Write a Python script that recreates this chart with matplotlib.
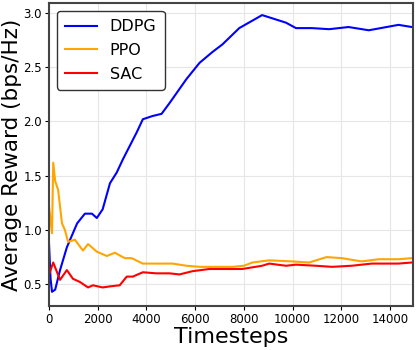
import matplotlib.pyplot as plt

ddpg_t = [0, 60, 120, 250, 450, 730, 1150, 1470, 1760, 1960, 2200, 2500, 2780, 3030,
          3600, 3850, 4250, 4620, 4950, 5640, 6180, 6710, 7120, 7810, 8750, 9730,
          10140, 10800, 11500, 12300, 13130, 14350, 14900]
ddpg_r = [0.86, 0.55, 0.43, 0.45, 0.63, 0.84, 1.06, 1.15, 1.15, 1.11, 1.19, 1.43, 1.53, 1.65,
          1.90, 2.02, 2.05, 2.07, 2.17, 2.39, 2.54, 2.64, 2.71, 2.86, 2.98, 2.91,
          2.86, 2.86, 2.85, 2.87, 2.84, 2.89, 2.87]

ppo_t = [0, 120, 170, 250, 370, 530, 650, 780, 1060, 1390, 1600, 1960, 2370, 2700, 3110,
         3390, 3850, 4400, 5070, 5640, 6180, 6710, 7530, 8000, 8350, 9040, 9980,
         10680, 11400, 12020, 12840, 13540, 14350, 14900]
ppo_r = [1.21, 0.97, 1.62, 1.45, 1.37, 1.06, 1.00, 0.89, 0.91, 0.81, 0.87, 0.80, 0.76, 0.79, 0.74,
         0.74, 0.69, 0.69, 0.69, 0.67, 0.66, 0.66, 0.66, 0.67, 0.70, 0.72, 0.71,
         0.70, 0.75, 0.74, 0.71, 0.73, 0.73, 0.74]

sac_t = [0, 170, 450, 730, 980, 1270, 1600, 1800, 2200, 2500, 2900, 3190, 3440, 3850,
         4400, 4950, 5360, 5890, 6580, 7000, 7930, 8750, 9040, 9730, 10140, 10960,
         11620, 12430, 13250, 14350, 14900]
sac_r = [0.59, 0.70, 0.54, 0.63, 0.55, 0.52, 0.47, 0.49, 0.47, 0.48, 0.49, 0.57, 0.57, 0.61,
         0.60, 0.60, 0.59, 0.62, 0.64, 0.64, 0.64, 0.67, 0.69, 0.67, 0.68, 0.67,
         0.66, 0.67, 0.69, 0.69, 0.70]


def main():
    fig = plt.figure(figsize=(4.16, 3.5), dpi=100)
    ax = fig.add_axes([0.118, 0.126, 0.875, 0.865])
    ax.plot(ddpg_t, ddpg_r, color='blue', lw=1.5, label='DDPG')
    ax.plot(ppo_t, ppo_r, color='orange', lw=1.5, label='PPO')
    ax.plot(sac_t, sac_r, color='red', lw=1.5, label='SAC')
    ax.set_xlim(0, 14950)
    ax.set_ylim(0.3, 3.09)
    ax.set_xticks(range(0, 15000, 2000))
    ax.set_yticks([0.5, 1.0, 1.5, 2.0, 2.5, 3.0])
    ax.tick_params(labelsize=8.5, length=3, pad=2)
    ax.grid(color='#e6e6e6', lw=0.8)
    for s in ax.spines.values():
        s.set_color('#444444')
        s.set_linewidth(1.5)
    ax.set_xlabel('Timesteps', fontsize=16, labelpad=1)
    ax.set_ylabel('Average Reward (bps/Hz)', fontsize=15.5, labelpad=1)
    leg = ax.legend(loc=2, fontsize=11.5, edgecolor='#333333', framealpha=1,
                    labelspacing=0.55, borderpad=0.5)
    leg.get_frame().set_linewidth(1.0)
    fig.savefig('out.png', dpi=100)


if __name__ == '__main__':
    main()
